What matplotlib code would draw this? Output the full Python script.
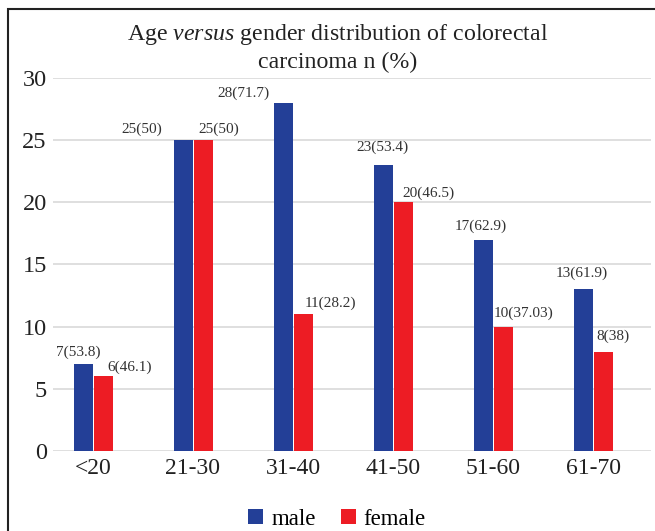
import matplotlib
matplotlib.use('Agg')
import matplotlib.pyplot as plt
from matplotlib.patches import Rectangle
import numpy as np

plt.rcParams['font.family'] = ['Liberation Serif', 'DejaVu Serif']
plt.rcParams['mathtext.fontset'] = 'custom'
plt.rcParams['mathtext.rm'] = 'Liberation Serif'
plt.rcParams['mathtext.it'] = 'Liberation Serif:italic'

age_groups = ['<20', '21-30', '31-40', '41-50', '51-60', '61-70']
male = [7, 25, 28, 23, 17, 13]
female = [6, 25, 11, 20, 10, 8]
male_pct = ['53.8', '50', '71.7', '53.4', '62.9', '61.9']
female_pct = ['46.1', '50', '28.2', '46.5', '37.03', '38']
yticks = [0, 5, 10, 15, 20, 25, 30]

# label placement (offset from group centre, y position) as in the original
male_lbl_dx = [-0.15, -0.51, -0.50, -0.11, -0.12, -0.11]
male_lbl_y = [7.9, 25.9, 28.8, 24.4, 18.1, 14.3]
female_lbl_dx = [0.37, 0.26, 0.37, 0.35, 0.31, 0.20]
female_lbl_y = [6.7, 25.9, 11.9, 20.75, 11.1, 9.2]

blue = '#233f97'
red = '#ed1c24'

fig = plt.figure(figsize=(6.55, 5.31), dpi=100)
ax = fig.add_axes([0.0809, 0.1507, 0.913, 0.7025])

x = np.arange(len(age_groups))
w = 0.19
ax.bar(x - 0.096, male, w, color=blue, label='male', zorder=3)
ax.bar(x + 0.104, female, w, color=red, label='female', zorder=3)

for i in range(len(x)):
    ax.text(x[i] + male_lbl_dx[i], male_lbl_y[i], '%d(%s)' % (male[i], male_pct[i]),
            ha='center', va='center', fontsize=11, color='#333333')
    ax.text(x[i] + female_lbl_dx[i], female_lbl_y[i], '%d(%s)' % (female[i], female_pct[i]),
            ha='center', va='center', fontsize=11, color='#333333')

ax.set_xlim(-0.4, 5.58)
ax.set_ylim(0, 30)
ax.set_yticks(yticks)
ax.set_xticks(x)
ax.set_xticklabels(age_groups, fontsize=17, color='#222222')
ax.tick_params(axis='y', labelsize=17.5, length=0, pad=4.5, colors='#222222')
ax.tick_params(axis='x', length=0, pad=5)
ax.grid(axis='y', color='#d9d9d9', linewidth=1.2, zorder=0)
for s in ax.spines.values():
    s.set_visible(False)

fig.text(0.515, 0.91, 'Age $\\it{versus}$ gender distribution of colorectal\ncarcinoma n (%)',
         ha='center', va='center', fontsize=17.2, color='#222222', linespacing=1.3)

ax.legend(loc='center', bbox_to_anchor=(0.475, -0.183), ncol=2, frameon=False,
          fontsize=16.5, handlelength=0.65, handleheight=0.65, handletextpad=0.35,
          columnspacing=1.1)

fig.patches.append(Rectangle((0.012, -0.1), 1.2, 1.083, transform=fig.transFigure,
                             fill=False, edgecolor='#222222', linewidth=1.5))

fig.savefig('out.png', dpi=100)
